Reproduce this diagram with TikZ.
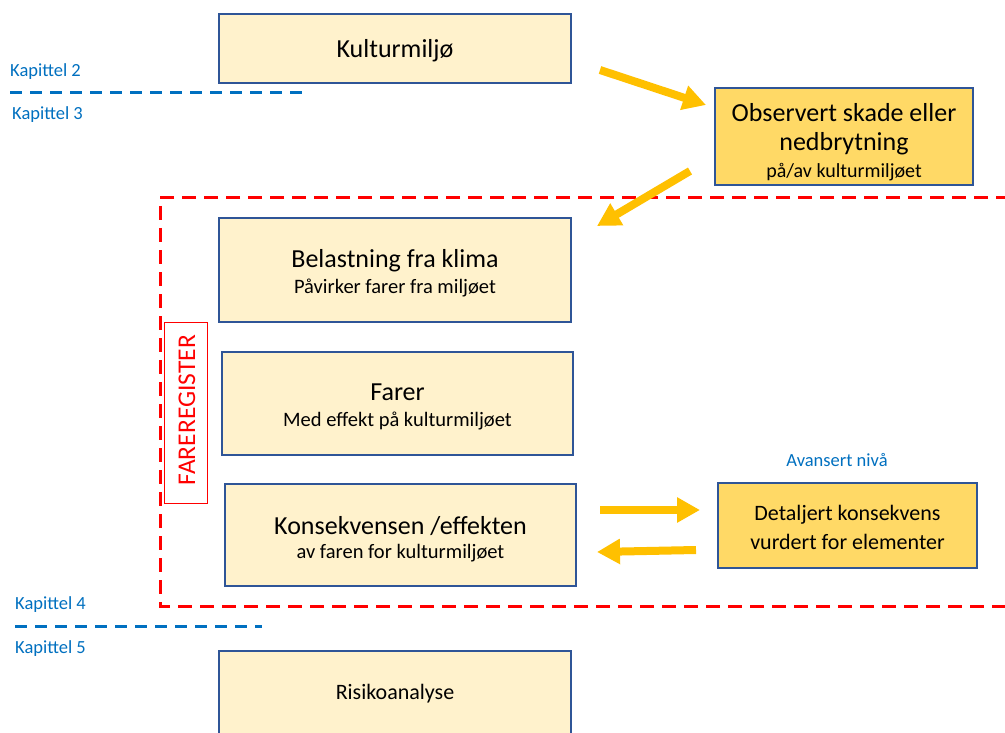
\documentclass[tikz,border=0pt]{standalone}
\usepackage{fontspec}
\setmainfont{Carlito}
\usetikzlibrary{arrows.meta}
\definecolor{boxfill}{HTML}{FFF2CC}
\definecolor{boxfilldark}{HTML}{FFD966}
\definecolor{boxline}{HTML}{2F5597}
\definecolor{arrowcol}{HTML}{FFC000}
\definecolor{chapblue}{HTML}{0070C0}
\definecolor{regred}{HTML}{FF0000}
\newcommand{\fs}[1]{\fontsize{#1}{#1}\selectfont}
\tikzset{
  lightbox/.style={draw=boxline, line width=1.2pt, fill=boxfill, inner sep=0pt},
  darkbox/.style={draw=boxline, line width=1.2pt, fill=boxfilldark, inner sep=0pt},
  maintext/.style={font=\fs{26}, inner sep=0pt},
  subtext/.style={font=\fs{20.5}, inner sep=0pt},
  bigarrow/.style={draw=arrowcol, line width=8pt, -{Triangle[length=23pt,width=24pt]}},
  chaplabel/.style={text=chapblue, font=\fs{18.5}, anchor=west, inner sep=0pt},
  chapline/.style={draw=chapblue, line width=3pt, dash pattern=on 12pt off 8pt},
  regline/.style={draw=regred, line width=3pt, dash pattern=on 14pt off 8pt},
}
\begin{document}
\begin{tikzpicture}[x=1pt,y=-1pt]
\useasboundingbox[fill=white] (0,0) rectangle (1005,733);

% red dashed register frame
\draw[regline] (1010,198) -- (160,198) -- (160,606) -- (1010,606);

% chapter markers
\node[chaplabel] (k2) at (10,72) {Kapittel 2};
\coordinate (c2a) at (10,93);
\coordinate (c2b) at (306,93);
\draw[chapline] (c2a) -- (c2b);
\node[chaplabel] (k3) at (12,115) {Kapittel 3};

\node[chaplabel] (k4) at (15,605) {Kapittel 4};
\coordinate (c4a) at (15,626);
\coordinate (c4b) at (262,626);
\draw[chapline] (c4a) -- (c4b);
\node[chaplabel] (k5) at (15,649) {Kapittel 5};

% Kulturmiljø
\node[lightbox, minimum width=352pt, minimum height=69pt] (kult) at (395,48.5) {};
\node[maintext] (kultt) at (395,50.5) {Kulturmiljø};

% Observert
\node[darkbox, minimum width=258pt, minimum height=97pt] (obs) at (844,136.5) {};
\node[maintext] (obs1) at (844,112.5) {Observert skade eller};
\node[maintext] (obs2) at (844,143.5) {nedbrytning};
\node[subtext, font=\fs{20}] (obs3) at (844,172) {på/av kulturmiljøet};

% Belastning
\node[lightbox, minimum width=352pt, minimum height=104pt] (bel) at (395,270) {};
\node[maintext] (bel1) at (395,261) {Belastning fra klima};
\node[subtext] (bel2) at (395,288) {Påvirker farer fra miljøet};

% Farer
\node[lightbox, minimum width=351pt, minimum height=103pt] (far) at (397.5,403.5) {};
\node[maintext] (far1) at (397.5,392.5) {Farer};
\node[subtext] (far2) at (397.5,420.5) {Med effekt på kulturmiljøet};

% Konsekvensen
\node[lightbox, minimum width=351pt, minimum height=102pt] (kon) at (400.5,535) {};
\node[maintext] (kon1) at (400.5,526.5) {Konsekvensen /effekten};
\node[subtext] (kon2) at (400.5,553.5) {av faren for kulturmiljøet};

% Detaljert
\node[darkbox, minimum width=259pt, minimum height=85pt] (det) at (847.5,525.5) {};
\node[maintext, font=\fs{22}] (det1) at (847.5,514.5) {Detaljert konsekvens};
\node[maintext, font=\fs{22}] (det2) at (847.5,541.5) {vurdert for elementer};

\node[text=chapblue, font=\fs{18.5}, inner sep=0pt] (avn) at (837,460) {Avansert nivå};

% Risikoanalyse
\node[lightbox, minimum width=352pt, minimum height=100pt] (ris) at (395,701) {};
\node[maintext, font=\fs{22}] (rist) at (395,693.5) {Risikoanalyse};

% register label
\node[draw=regred, line width=1pt, minimum width=43pt, minimum height=181pt, inner sep=0pt] (reg) at (186,413) {};
\node[text=regred, font=\fs{25.5}, rotate=90, inner sep=0pt] (regt) at (187,410) {FAREREGISTER};

% arrows
\coordinate (a1s) at (600,70);
\coordinate (a1e) at (706,105);
\coordinate (a2s) at (690,171);
\coordinate (a2e) at (597,226);
\coordinate (a3s) at (600,510);
\coordinate (a3e) at (700,510);
\coordinate (a4s) at (696,550);
\coordinate (a4e) at (597,552);
\draw[bigarrow] (a1s) -- (a1e);
\draw[bigarrow] (a2s) -- (a2e);
\draw[bigarrow] (a3s) -- (a3e);
\draw[bigarrow] (a4s) -- (a4e);
\end{tikzpicture}
\end{document}
